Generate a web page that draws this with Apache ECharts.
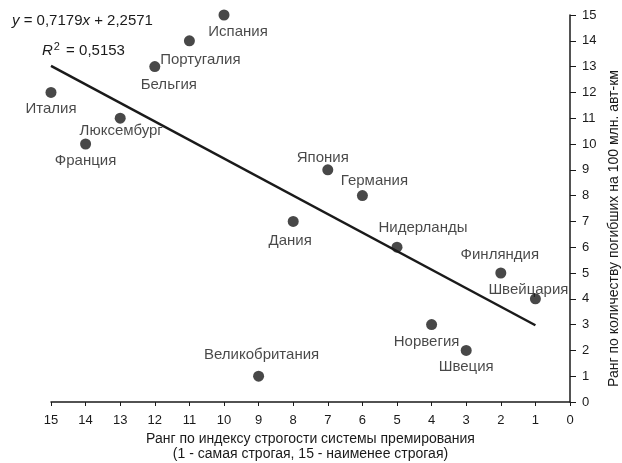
<!DOCTYPE html>
<html>
<head>
<meta charset="utf-8">
<script src="https://cdn.jsdelivr.net/npm/echarts@6/dist/echarts.min.js"></script>
<style>
  html, body { margin: 0; padding: 0; background: #fff; }
  #chart { width: 622px; height: 463px; }
</style>
</head>
<body>
<div id="chart"></div>
<script>
// страны и их ранги
var countries = ['Италия', 'Испания', 'Португалия', 'Бельгия', 'Люксембург', 'Франция',
  'Япония', 'Германия', 'Дания', 'Нидерланды', 'Финляндия', 'Швейцария',
  'Норвегия', 'Швеция', 'Великобритания']
var strictRank = [15, 10, 11, 12, 13, 14, 7, 6, 8, 5, 2, 1, 4, 3, 9]
var deathRank = [12, 15, 14, 13, 11, 10, 9, 8, 7, 6, 5, 4, 3, 2, 1]
var xTicks = [15, 14, 13, 12, 11, 10, 9, 8, 7, 6, 5, 4, 3, 2, 1, 0]
var yTicks = [0, 1, 2, 3, 4, 5, 6, 7, 8, 9, 10, 11, 12, 13, 14, 15]

// линия тренда
var slope = 0.7179
var intercept = 2.2571
var trendX = [15, 1]

// смещения подписей (px) относительно точки
var labelOffset = {
  'Италия': [0, 16], 'Испания': [14, 17], 'Португалия': [11, 19], 'Бельгия': [14, 18],
  'Люксембург': [1, 13], 'Франция': [0, 17], 'Япония': [-5, -12], 'Германия': [12, -15],
  'Дания': [-3, 19], 'Нидерланды': [26, -19], 'Финляндия': [-1, -18], 'Швейцария': [-7, -9],
  'Норвегия': [-5, 17], 'Швеция': [0, 16], 'Великобритания': [3, -21]
}

var dom = document.getElementById('chart')
var chart = echarts.init(dom)
var font = '"Liberation Sans", Arial, sans-serif'
var ink = '#1a1a1a'

function initPoints() {
  return countries.map(function (name, i) {
    return {
      name: name,
      value: [strictRank[i], deathRank[i]],
      label: { offset: labelOffset[name] }
    }
  })
}

function initTrend() {
  return trendX.map(function (x) {
    return [x, slope * x + intercept]
  })
}

var option = {
  animation: false,
  textStyle: { fontFamily: font },
  grid: { left: 51, right: 52, top: 15, bottom: 61, outerBoundsMode: 'none', containLabel: false },
  xAxis: {
    type: 'value',
    inverse: true,
    min: 0,
    max: 15,
    interval: 1,
    name: 'Ранг по индексу строгости системы премирования\n(1 - самая строгая, 15 - наименее строгая)',
    nameLocation: 'middle',
    nameGap: 28,
    nameTextStyle: { color: ink, fontSize: 14, lineHeight: 15, fontFamily: font },
    splitLine: { show: false },
    axisLine: { lineStyle: { color: ink, width: 1.5 } },
    axisTick: { show: true, length: 4, lineStyle: { color: ink } },
    axisLabel: {
      color: ink, fontSize: 13, margin: 12, fontFamily: font,
      formatter: function (v) { return xTicks.indexOf(v) >= 0 ? String(v) : '' }
    }
  },
  yAxis: {
    type: 'value',
    position: 'right',
    min: 0,
    max: 15,
    interval: 1,
    name: 'Ранг по количеству погибших на 100 млн. авт-км',
    nameLocation: 'middle',
    nameRotate: 90,
    nameGap: 36,
    nameTextStyle: { color: ink, fontSize: 14, fontFamily: font, padding: [0, 40, 0, 0] },
    splitLine: { show: false },
    axisLine: { show: true, lineStyle: { color: ink, width: 1.5 } },
    axisTick: { show: true, length: 6, lineStyle: { color: ink } },
    axisLabel: {
      color: ink, fontSize: 13, margin: 12, fontFamily: font,
      formatter: function (v) { return yTicks.indexOf(v) >= 0 ? String(v) : '' }
    }
  },
  graphic: [
    {
      type: 'text', left: 12, top: 13,
      style: {
        text: '{i|y} = 0,7179{i|x} + 2,2571',
        font: '15px ' + font,
        fill: ink,
        rich: { i: { fontStyle: 'italic', fontSize: 15, fontFamily: font } }
      }
    },
    {
      type: 'text', left: 42, top: 41,
      style: {
        text: '{i|R}{s|2} = 0,5153',
        font: '15px ' + font,
        fill: ink,
        rich: {
          i: { fontStyle: 'italic', fontSize: 15, fontFamily: font },
          s: { fontSize: 11, fontFamily: font, verticalAlign: 'top', padding: [0, 2, 8, 1] }
        }
      }
    }
  ],
  series: [
    {
      type: 'line',
      data: initTrend(),
      symbol: 'none',
      lineStyle: { color: ink, width: 2.5 },
      z: 1
    },
    {
      type: 'scatter',
      data: initPoints(),
      symbol: 'circle',
      symbolSize: 11,
      itemStyle: { color: ink },
      label: {
        show: true,
        position: 'inside',
        formatter: '{b}',
        color: ink,
        fontSize: 15,
        fontFamily: font,
        align: 'center',
        verticalAlign: 'middle'
      },
      z: 2
    }
  ]
}

chart.setOption(option)
</script>
</body>
</html>
